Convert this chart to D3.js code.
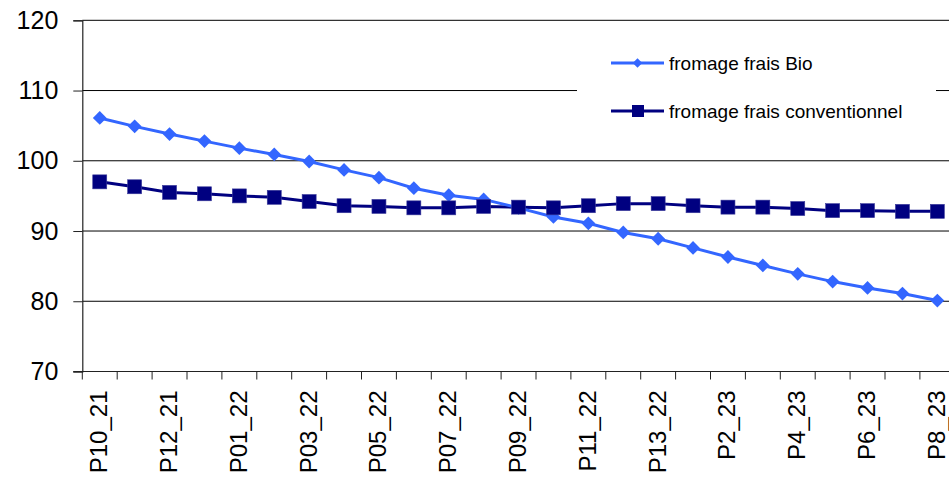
<!DOCTYPE html>
<html>
<head>
<meta charset="utf-8">
<script src="https://cdn.jsdelivr.net/npm/d3@7/dist/d3.min.js"></script>
<style>
  html, body { margin: 0; padding: 0; background: #fff; }
  svg { display: block; }
  text { font-family: "Liberation Sans", Arial, sans-serif; fill: #000; }
</style>
</head>
<body>
<svg id="chart" width="949" height="478"></svg>
<script>
const categories = ["P10_21","P11_21","P12_21","P13_21","P01_22","P02_22","P03_22","P04_22","P05_22","P06_22","P07_22","P08_22","P09_22","P10_22","P11_22","P12_22","P13_22","P1_23","P2_23","P3_23","P4_23","P5_23","P6_23","P7_23","P8_23"];
const bioValues = [106.1,104.9,103.8,102.8,101.8,100.9,99.9,98.7,97.6,96.1,95.1,94.5,93.3,92.0,91.1,89.8,88.9,87.6,86.3,85.1,83.9,82.8,81.9,81.1,80.1];
const convValues = [97.0,96.3,95.5,95.3,95.0,94.8,94.2,93.6,93.5,93.3,93.3,93.5,93.4,93.3,93.6,93.9,93.9,93.6,93.4,93.4,93.2,92.9,92.9,92.8,92.8];
const yTicks = [70,80,90,100,110,120];
const shownLabels = ["P10_21","P12_21","P01_22","P03_22","P05_22","P07_22","P09_22","P11_22","P13_22","P2_23","P4_23","P6_23","P8_23"];
const seriesNames = ["fromage frais Bio","fromage frais conventionnel"];

const svg = d3.select("#chart");
const left = 82.3, bandW = 34.9;
const x = d3.scaleBand().domain(categories).range([left, left + bandW * categories.length]).paddingInner(0).paddingOuter(0);
const y = d3.scaleLinear().domain([70,120]).range([371.5, 20.3]);

// gridlines
svg.append("g").selectAll("line").data(yTicks.filter(v => v > 70)).join("line")
  .attr("x1", left).attr("x2", 949)
  .attr("y1", d => y(d)).attr("y2", d => y(d))
  .attr("stroke", "#000").attr("stroke-width", 1);

// legend background (covers gridline)
svg.append("rect").attr("x", 577).attr("y", 40).attr("width", 359).attr("height", 95).attr("fill", "#fff");

// Y axis
const yAxis = d3.axisLeft(y).tickValues(yTicks).tickSize(9).tickPadding(15).tickFormat(d3.format("d"));
const gy = svg.append("g").attr("transform", `translate(${left},0)`).call(yAxis);
gy.select(".domain").attr("stroke", "#222").attr("stroke-width", 1.2);
gy.selectAll(".tick line").attr("stroke", "#222");
gy.selectAll("text").style("font-size", "25px").attr("fill", "#000");

// X axis line + boundary ticks
const xEnd = left + bandW * categories.length;
svg.append("line").attr("x1", left - 9).attr("x2", xEnd).attr("y1", y(70)).attr("y2", y(70)).attr("stroke", "#222").attr("stroke-width", 1.2);
svg.append("g").selectAll("line").data(categories).join("line")
  .attr("x1", d => x(d)).attr("x2", d => x(d))
  .attr("y1", y(70)).attr("y2", y(70) + 8)
  .attr("stroke", "#222");

// X labels
const xAxis = d3.axisBottom(x).tickValues(shownLabels).tickSize(0).tickPadding(0);
const gx = svg.append("g").attr("transform", `translate(0,${y(70)})`).call(xAxis);
gx.select(".domain").remove();
gx.selectAll("text")
  .style("font-size", "24px")
  .attr("text-anchor", "end")
  .attr("transform", "rotate(-90)")
  .attr("x", -19).attr("y", -1).attr("dy", "0.35em");

const line = d3.line().x((d, i) => x(categories[i]) + x.bandwidth() / 2).y(d => y(d));
const bioColor = "#3366ff", convColor = "#000080";

svg.append("path").datum(convValues).attr("d", line).attr("fill", "none").attr("stroke", convColor).attr("stroke-width", 3);
svg.append("path").datum(bioValues).attr("d", line).attr("fill", "none").attr("stroke", bioColor).attr("stroke-width", 3);

const diamond = d3.symbol().type(d3.symbolSquare).size(95);
svg.append("g").selectAll("path").data(bioValues).join("path")
  .attr("d", diamond)
  .attr("transform", (d, i) => `translate(${x(categories[i]) + x.bandwidth()/2},${y(d)}) rotate(45)`)
  .attr("fill", bioColor);

svg.append("g").selectAll("rect").data(convValues).join("rect")
  .attr("x", (d, i) => x(categories[i]) + x.bandwidth()/2 - 7)
  .attr("y", d => y(d) - 7)
  .attr("width", 14).attr("height", 14)
  .attr("fill", convColor).attr("stroke", "#3a3a9a").attr("stroke-width", 0.6);

// Legend
const legend = svg.append("g");
const legendItems = [
  {name: seriesNames[0], color: bioColor, shape: "diamond", ly: 63},
  {name: seriesNames[1], color: convColor, shape: "square", ly: 111}
];
legendItems.forEach(it => {
  legend.append("line").attr("x1", 611).attr("x2", 664).attr("y1", it.ly).attr("y2", it.ly)
    .attr("stroke", it.color).attr("stroke-width", 3);
  if (it.shape === "diamond") {
    legend.append("path").attr("d", d3.symbol().type(d3.symbolSquare).size(45)())
      .attr("transform", `translate(637.5,${it.ly}) rotate(45)`).attr("fill", it.color);
  } else {
    legend.append("rect").attr("x", 632).attr("y", it.ly - 6).attr("width", 12).attr("height", 12).attr("fill", it.color);
  }
  legend.append("text").attr("x", 669).attr("y", it.ly).attr("dy", "0.35em")
    .style("font-size", "19px").text(it.name);
});
</script>
</body>
</html>
